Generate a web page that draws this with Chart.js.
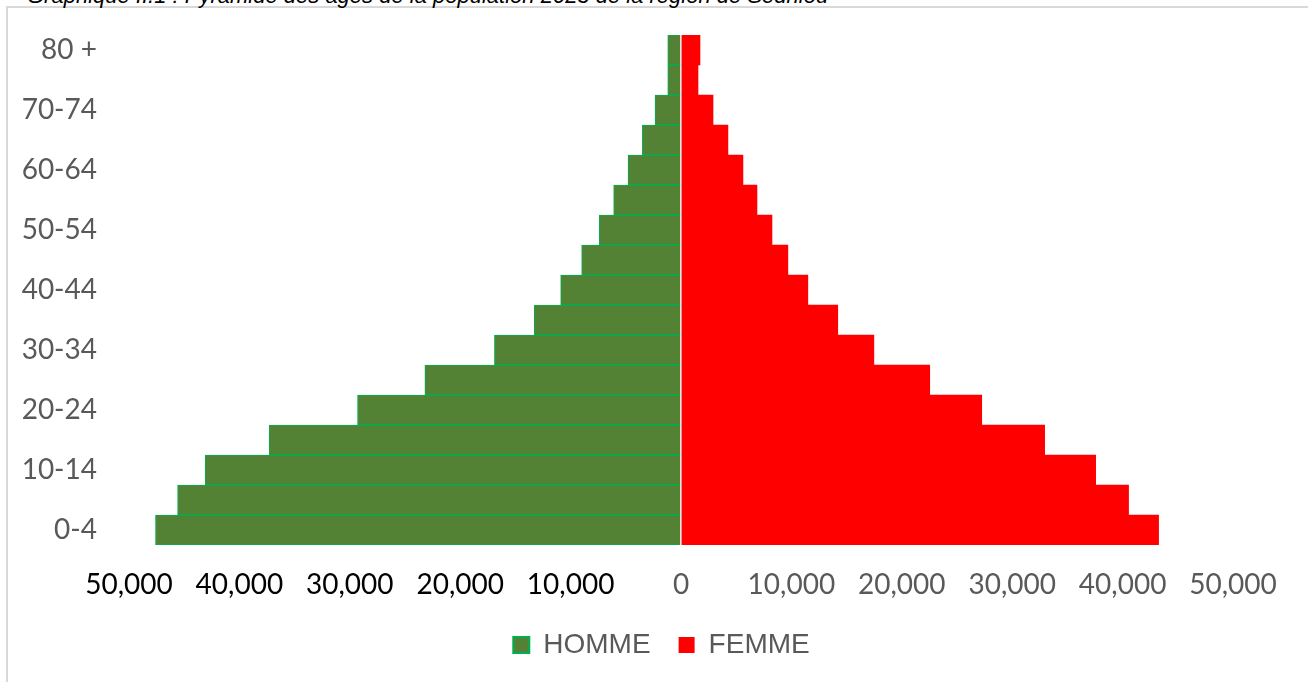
<!DOCTYPE html>
<html>
<head>
<meta charset="utf-8">
<script src="https://cdn.jsdelivr.net/npm/chart.js@4"></script>
<style>
  html, body { margin: 0; padding: 0; background: #fff; }
  #wrap { position: relative; width: 1308px; height: 682px; overflow: hidden; }
  #frame { position: absolute; left: 6px; top: 6px; right: -4px; bottom: -4px; border-top: 2px solid #d9d9d9; border-left: 2px solid #d9d9d9; }
  #title { position: absolute; left: 27px; top: -15px; font: italic 22px "Liberation Sans", Arial, sans-serif; color: #000; white-space: nowrap; line-height: 1; }
  #box { position: absolute; left: 0; top: 0; width: 1308px; height: 682px; }
</style>
</head>
<body>
<div id="wrap">
  <div id="frame"></div>
  <div id="title">Graphique II.1 : Pyramide des âges de la population 2023 de la région de Sédhiou</div>
  <div id="box"><canvas id="chartPyramid"></canvas></div>
</div>
<script>
// age groups, bottom to top
const ageGroups = ['0-4', '5-9', '10-14', '15-19', '20-24', '25-29', '30-34', '35-39', '40-44',
  '45-49', '50-54', '55-59', '60-64', '65-69', '70-74', '75-79', '80 +'];
// men drawn to the left (negative)
const hommes = [47600, 45600, 43100, 37300, 29300, 23200, 16900, 13300, 10900,
  9000, 7400, 6100, 4800, 3500, 2350, 1200, 1200];
const femmes = [43260, 40540, 37560, 32940, 27240, 22530, 17470, 14200, 11490,
  9680, 8240, 6880, 5610, 4250, 2900, 1540, 1720];
const xTicks = [-50000, -40000, -30000, -20000, -10000, 0, 10000, 20000, 30000, 40000, 50000];

const tickFont = { family: 'Lato, "Open Sans", sans-serif', size: 28 };

// legend sits a bit right of the canvas centre in the original
const shiftLegend = {
    id: 'shiftLegend',
    afterLayout(chart) { if (chart.legend) { chart.legend.left = 90; chart.legend.right = 1233; } }
};

new Chart(document.getElementById('chartPyramid'), {
    type: 'bar',
    data: {
        labels: ageGroups,
        datasets: [
            { label: 'HOMME', data: hommes.map(v => -v), backgroundColor: '#548235', borderColor: '#00B050', borderWidth: 1 },
            { label: 'FEMME', data: femmes, backgroundColor: '#FF0000', borderColor: '#FF0000', borderWidth: 0 }
        ]
    },
    plugins: [shiftLegend],
    options: {
        indexAxis: 'y',
        responsive: true,
        maintainAspectRatio: false,
        animation: false,
        datasets: { bar: { categoryPercentage: 1, barPercentage: 1 } },
        layout: { padding: { left: 0, right: 75, top: 35, bottom: 13 } },
        plugins: {
            tooltip: { enabled: false },
            legend: {
                position: 'bottom',
                labels: {
                    color: '#595959',
                    font: { family: '"Liberation Sans", Arial, sans-serif', size: 28 },
                    boxWidth: 16, boxHeight: 16, padding: 28,
                    generateLabels(chart) {
                        const items = Chart.defaults.plugins.legend.labels.generateLabels(chart);
                        items.forEach(it => { it.lineWidth = it.text === 'HOMME' ? 2 : 0; });
                        return items;
                    }
                }
            }
        },
        scales: {
            x: {
                stacked: true,
                min: -50000, max: 50000,
                afterBuildTicks: s => { s.ticks = xTicks.map(v => ({ value: v })); },
                afterFit: s => { s.height = 58; },
                border: { display: false },
                grid: {
                    drawTicks: false,
                    lineWidth: 2,
                    color: c => (c.tick && c.tick.value === 0) ? '#e2e2e2' : 'rgba(0,0,0,0)'
                },
                z: 1,
                ticks: {
                    padding: 23,
                    font: tickFont,
                    color: c => c.tick.value < 0 ? '#000000' : '#595959',
                    callback: v => Math.abs(v).toLocaleString('en-US')
                }
            },
            y: {
                stacked: true,
                reverse: true,
                afterFit: s => { s.width = 129; s.paddingTop = 0; s.paddingBottom = 0; },
                border: { display: false },
                grid: { display: false, drawTicks: false },
                ticks: {
                    autoSkip: false,
                    padding: 32,
                    font: tickFont,
                    color: '#595959',
                    callback: (v, i) => i % 2 === 0 ? ageGroups[i] : ''
                }
            }
        }
    }
});
</script>
</body>
</html>
